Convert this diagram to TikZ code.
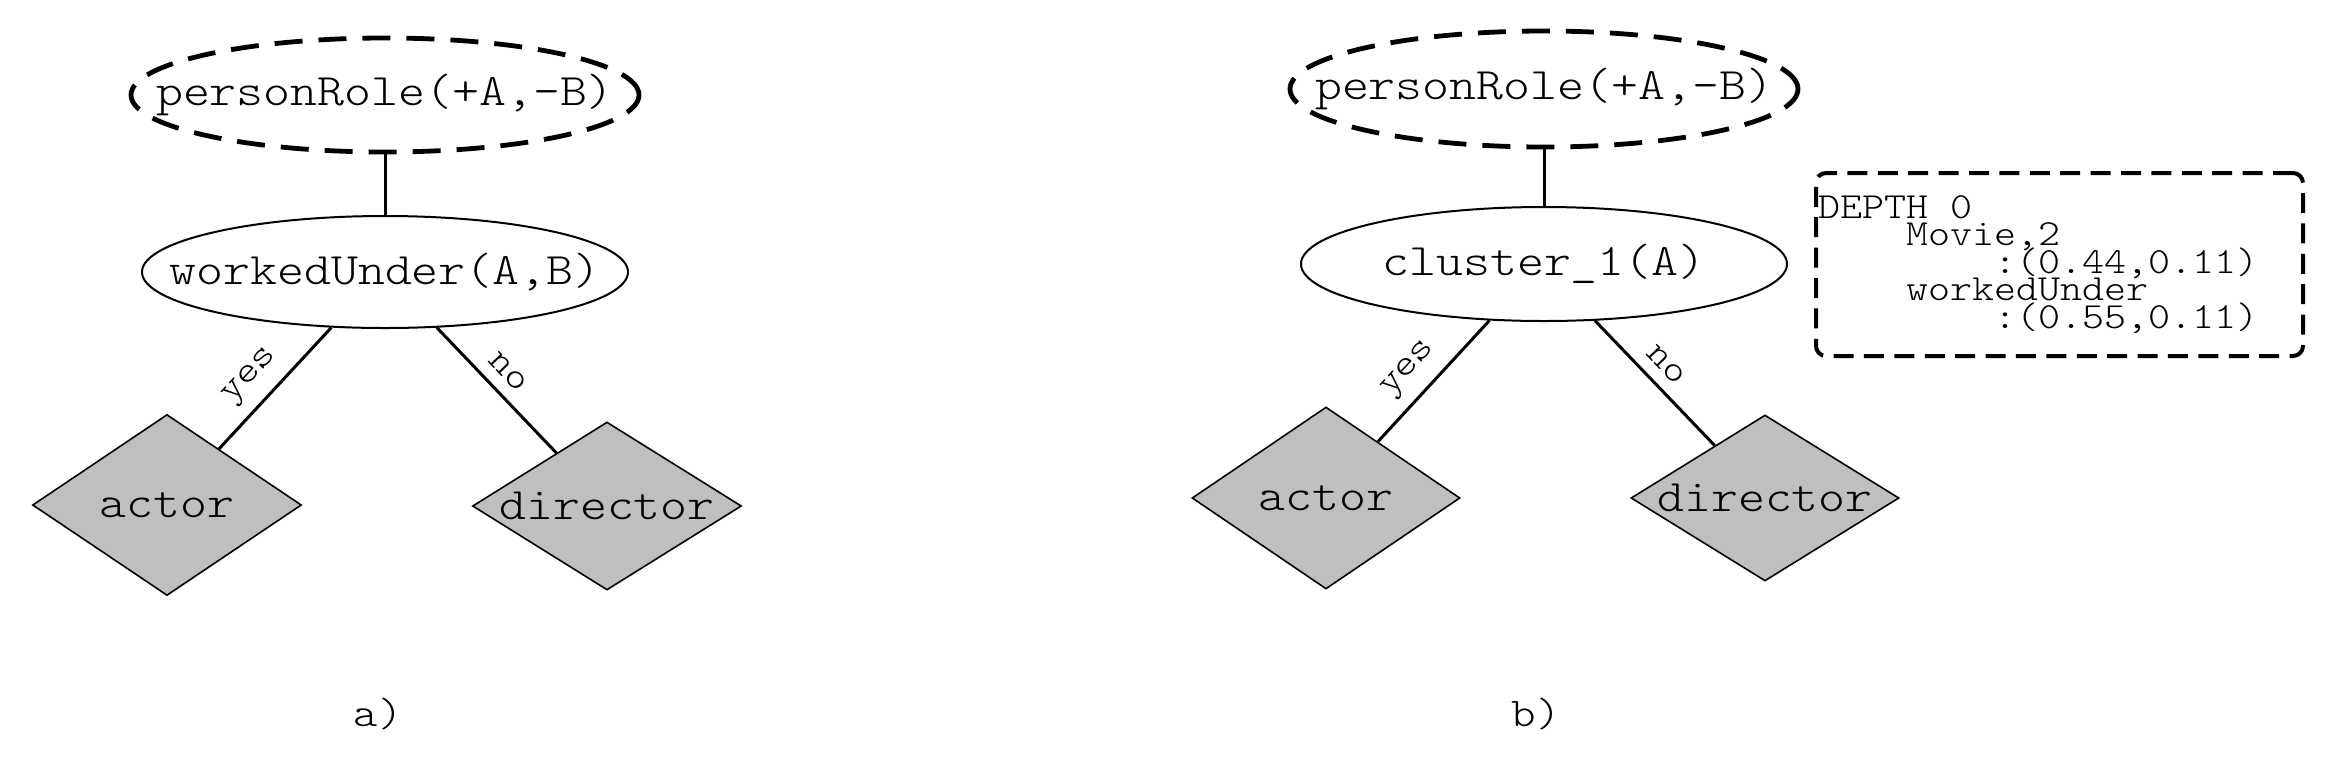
\documentclass[tikz,border=0pt]{standalone}
\usepackage{fontspec}
\setmonofont{lmmonolt10-regular.otf}[FakeStretch=1.14]
\usetikzlibrary{shapes.geometric}
\definecolor{dfill}{gray}{0.75}
\newcommand\bigtt{\fontsize{11.25}{13}\selectfont\ttfamily}
\newcommand\smalltt{\fontsize{9.2}{6.9}\selectfont\ttfamily\lineskiplimit=-20pt}
\newcommand\captt{\fontsize{10.2}{12}\selectfont\ttfamily}
\newcommand\ztext[1]{\makebox[0pt]{#1}}
\tikzset{
  pred/.style={ellipse, draw, line width=0.5pt, inner sep=0pt, font=\bigtt},
  target/.style={ellipse, draw, line width=1.2pt, dash pattern=on 7pt off 4pt, inner sep=0pt, font=\bigtt},
  leaf/.style={diamond, draw, line width=0.4pt, fill=dfill, inner sep=0pt},
  edge/.style={line width=0.75pt},
  branch/.style={font=\smalltt, sloped, above, inner sep=2.8pt},
  infobox/.style={draw, rounded corners=2.5pt, line width=1pt, dash pattern=on 5pt off 2.6pt,
    font=\smalltt, align=left, inner xsep=0.5pt, inner ysep=0pt},
  subcap/.style={font=\captt, inner sep=0pt}
}
\begin{document}
\begin{tikzpicture}[x=0.25pt,y=-0.25pt]
\useasboundingbox (0,0) rectangle (2328,773);

% ---- panel a ----
\node[target, minimum width=127pt, minimum height=28.5pt] (pra) at (385,95) {\ztext{personRole(+A,-B)}};
\node[pred, minimum width=121.5pt, minimum height=28pt] (wu) at (385,272) {\ztext{workedUnder(A,B)}};
\node[leaf, minimum width=67.25pt, minimum height=45.25pt,
      label={[font=\bigtt]center:actor}] (acta) at (167,505) {};
\node[leaf, minimum width=67.25pt, minimum height=42pt,
      label={[font=\bigtt]center:director}] (dira) at (607,506) {};
\draw[edge] (pra) -- (wu);
\draw[edge] (wu.226) -- node[branch, pos=0.55] {yes} (acta);
\draw[edge] (wu.313) -- node[branch, pos=0.47] {no} (dira);
\node[subcap] (capa) at (378,714) {a)};

% ---- panel b ----
\node[target, minimum width=127pt, minimum height=29pt] (prb) at (1544,89) {\ztext{personRole(+A,-B)}};
\node[pred, minimum width=121.5pt, minimum height=28.5pt] (cl) at (1544,264) {\ztext{cluster\_1(A)}};
\node[leaf, minimum width=67pt, minimum height=45.5pt,
      label={[font=\bigtt]center:actor}] (actb) at (1326,498) {};
\node[leaf, minimum width=67pt, minimum height=41.5pt,
      label={[font=\bigtt]center:director}] (dirb) at (1765,498) {};
\draw[edge] (prb) -- (cl);
\draw[edge] (cl.226) -- node[branch, pos=0.55] {yes} (actb);
\draw[edge] (cl.312) -- node[branch, pos=0.47] {no} (dirb);
\node[infobox, minimum width=121.75pt, minimum height=45.75pt, text width=120.75pt] (info) at (2059.5,264.5)
  {DEPTH\hphantom{0}0\\
   \hphantom{0000}Movie,2\\
   \hphantom{00000000}:(0.44,0.11)\\
   \hphantom{0000}workedUnder\\
   \hphantom{00000000}:(0.55,0.11)};
\node[subcap] (capb) at (1536,714) {b)};
\end{tikzpicture}
\end{document}
